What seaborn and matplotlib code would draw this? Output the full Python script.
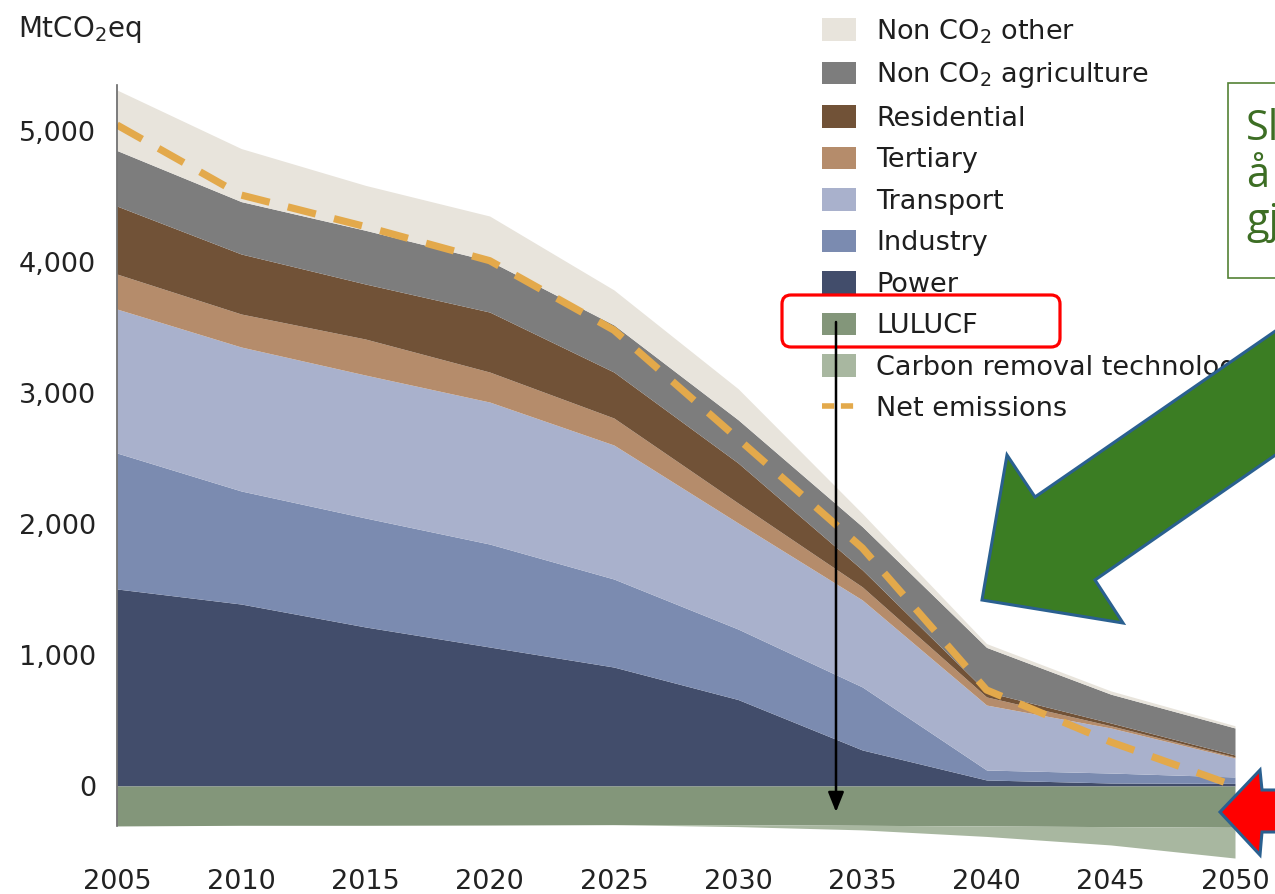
import matplotlib
matplotlib.use("Agg")
import matplotlib.pyplot as plt
import seaborn as sns
from matplotlib.patches import Polygon, Rectangle, FancyBboxPatch, FancyArrowPatch, Patch
from matplotlib.lines import Line2D
from matplotlib.transforms import IdentityTransform

# data (MtCO2eq)
years = [2005, 2010, 2015, 2020, 2025, 2030, 2035, 2040, 2045, 2050]
power = [1504, 1389, 1214, 1061, 908, 660, 275, 46, 23, 20]
industry = [1038, 863, 832, 786, 672, 538, 481, 76, 76, 49]
transport = [1099, 1099, 1091, 1084, 1023, 810, 664, 496, 344, 145]
tertiary = [267, 252, 275, 229, 206, 152, 100, 62, 17, 8]
residential = [519, 458, 420, 458, 351, 306, 130, 38, 21, 15]
non_co2_agri = [424, 400, 410, 390, 360, 330, 330, 340, 220, 206]
non_co2_other = [462, 405, 343, 343, 267, 237, 100, 29, 25, 17]
lulucf = [-305, -300, -300, -298, -295, -295, -300, -305, -310, -315]
carbon_removal = [0, 0, 0, 0, 0, -15, -35, -80, -140, -235]
net_emissions = [5046, 4511, 4270, 4010, 3480, 2650, 1817, 733, 336, 0]

labels_pos = ["Power", "Industry", "Transport", "Tertiary", "Residential",
              "Non CO$_2$ agriculture", "Non CO$_2$ other"]
colors_pos = ["#424d6b", "#7b8bb0", "#a9b1cc", "#b58c6b", "#715237",
              "#7d7d7d", "#e8e4dc"]
labels_neg = ["LULUCF", "Carbon removal technologies"]
colors_neg = ["#83967a", "#a8b7a0"]
net_color = "#e3a94b"

W, H = 1275, 894
FS = 19.5

sns.set_theme(style="white")
plt.rcParams["font.family"] = ["DejaVu Sans"]

fig = plt.figure(figsize=(W / 100, H / 100), dpi=100)
ax = fig.add_axes([117 / W, 1 - 864.6 / H, (1235 - 117) / W, (864.6 - 65.5) / H])

ax.stackplot(years, power, industry, transport, tertiary, residential,
             non_co2_agri, non_co2_other, colors=colors_pos, linewidth=0)
ax.stackplot(years, lulucf, carbon_removal, colors=colors_neg, linewidth=0)

sns.lineplot(x=years, y=net_emissions, ax=ax, color=net_color, linewidth=5.2)
net_line = ax.lines[-1]
net_line.set_dashes([4, 2.6])
net_line.set_dash_capstyle("butt")

ax.set_xlim(2005, 2050)
ax.set_ylim(-600, 5500)
ax.set_yticks(range(0, 5001, 1000))
ax.set_yticklabels([f"{v:,}" for v in range(0, 5001, 1000)])
ax.set_xticks(years)
ax.set_xticklabels([str(y) for y in years])
ax.tick_params(axis="y", direction="in", length=7, width=1.2, color="#d4d4d4",
               labelsize=FS, labelcolor="#222222", pad=15)
ax.tick_params(axis="x", length=0, labelsize=FS, labelcolor="#222222", pad=3)
ax.grid(False)
sns.despine(ax=ax, bottom=True)
ax.spines["left"].set_bounds(-305, 5350)
ax.spines["left"].set_color("#666666")
ax.spines["left"].set_linewidth(1.2)

fig.text(18, H - 37, "MtCO$_2$eq", transform=IdentityTransform(),
         fontsize=20, color="#222222", va="baseline")

# legend
handles = [Patch(facecolor=c, edgecolor="none") for c in colors_pos[::-1]]
handles += [Patch(facecolor=c, edgecolor="none") for c in colors_neg]
handles.append(Line2D([], [], color=net_color, lw=4, dashes=[2.2, 1.2]))
labels = labels_pos[::-1] + labels_neg + ["Net emissions"]
leg = fig.legend(handles, labels, loc="upper left",
                 bbox_to_anchor=(822 / W, 1 - 17 / H), frameon=False,
                 fontsize=FS, handlelength=1.26, handleheight=0.9,
                 handletextpad=0.74, labelspacing=0.55, borderpad=0,
                 borderaxespad=0)
for t in leg.get_texts():
    t.set_color("#1e1e1e")


def P(x, y):
    return (x, H - y)


idt = IdentityTransform()

# red rounded box around LULUCF
fig.add_artist(FancyBboxPatch(P(782, 347), 278, 52,
                              boxstyle="round,pad=0,rounding_size=9",
                              ec="red", fc="none", lw=2.3, transform=idt, zorder=10))

# black arrow from LULUCF legend down to the band
fig.add_artist(FancyArrowPatch(P(836, 322), P(836, 812),
                               arrowstyle="-|>,head_length=1.0,head_width=0.4",
                               mutation_scale=12, color="black", lw=1.8,
                               shrinkA=0, shrinkB=0, transform=idt, zorder=10))

# big green arrow
green_pts = [P(982, 600), P(1007, 455), P(1035, 497), P(1300, 314),
             P(1300, 438), P(1095, 580), P(1123, 623)]
fig.add_artist(Polygon(green_pts, closed=True, facecolor="#3b7d23",
                       edgecolor="#2a6090", lw=2.2, transform=idt, zorder=11))

# red arrow
red_pts = [P(1220, 812), P(1260, 770), P(1262, 790), P(1300, 790),
           P(1300, 832), P(1262, 832), P(1260, 855)]
fig.add_artist(Polygon(red_pts, closed=True, facecolor="#ff0000",
                       edgecolor="#2a6090", lw=2.2, transform=idt, zorder=11))

# text box (cut by the picture edge, as in the reference)
fig.add_artist(Rectangle(P(1228, 278), 120, 195, facecolor="white",
                         edgecolor="#548235", lw=1.2, transform=idt, zorder=10))
for txt, yb in [("Sl", 140), ("å", 187), ("gj", 233)]:
    fig.text(1246, H - yb, txt, transform=idt, fontsize=30, color="#3d6e24",
             family=["Open Sans", "DejaVu Sans"], va="baseline", zorder=12)

fig.savefig("out.png", dpi=100)
